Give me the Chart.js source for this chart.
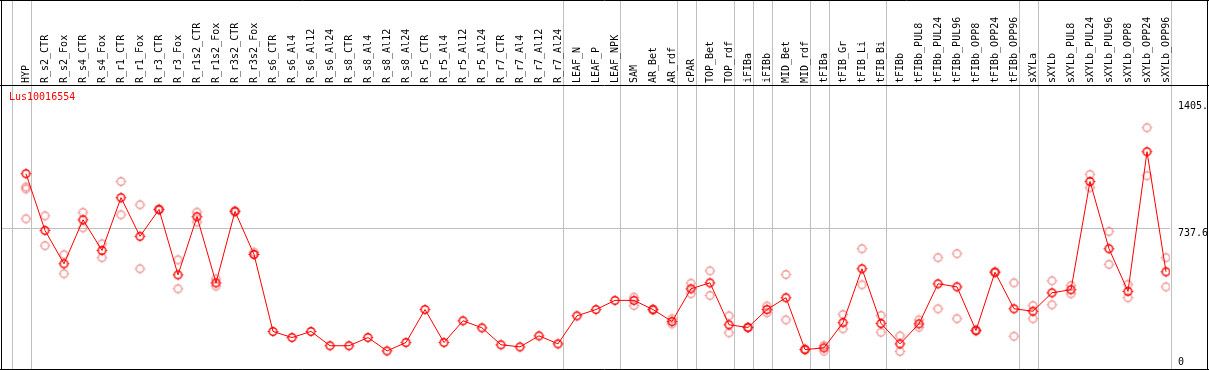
<!DOCTYPE html>
<html>
<head>
<meta charset="utf-8">
<script src="https://cdn.jsdelivr.net/npm/chart.js@4.4.1/dist/chart.umd.min.js"></script>
<style>
  body { margin: 0; background: #fff; }
  #wrap { width: 1209px; height: 370px; }
</style>
</head>
<body>
<div id="wrap"><canvas id="graph" width="1209" height="370"></canvas></div>
<script>
const geneName = 'Lus10016554';

const categories = [
    'HYP', 'R_s2_CTR', 'R_s2_Fox', 'R_s4_CTR', 'R_s4_Fox', 'R_r1_CTR', 'R_r1_Fox', 'R_r3_CTR', 'R_r3_Fox',
    'R_r1s2_CTR', 'R_r1s2_Fox', 'R_r3s2_CTR', 'R_r3s2_Fox',
    'R_s6_CTR', 'R_s6_Al4', 'R_s6_Al12', 'R_s6_Al24', 'R_s8_CTR', 'R_s8_Al4', 'R_s8_Al12', 'R_s8_Al24',
    'R_r5_CTR', 'R_r5_Al4', 'R_r5_Al12', 'R_r5_Al24', 'R_r7_CTR', 'R_r7_Al4', 'R_r7_Al12', 'R_r7_Al24',
    'LEAF_N', 'LEAF_P', 'LEAF_NPK', 'SAM', 'AR_Bet', 'AR_rdf', 'cPAR', 'TOP_Bet', 'TOP_rdf',
    'iFIBa', 'iFIBb', 'MID_Bet', 'MID_rdf', 'tFIBa', 'tFIB_Gr', 'tFIB_Li', 'tFIB_Bi', 'tFIBb',
    'tFIBb_PUL8', 'tFIBb_PUL24', 'tFIBb_PUL96', 'tFIBb_OPP8', 'tFIBb_OPP24', 'tFIBb_OPP96',
    'sXYLa', 'sXYLb', 'sXYLb_PUL8', 'sXYLb_PUL24', 'sXYLb_PUL96', 'sXYLb_OPP8', 'sXYLb_OPP24', 'sXYLb_OPP96'
];

// mean expression per sample (red line)
const meanValues = [
    1025, 727, 552, 783, 622, 899, 696, 837, 494,
    799, 452, 827, 601,
    197, 165, 197, 122, 122, 165, 95, 139,
    312, 139, 253, 216, 127, 116, 174, 132,
    279, 312, 360, 360, 312, 249, 421, 452, 232,
    218, 312, 374, 102, 111, 243, 526, 239, 132,
    237, 447, 431, 202, 508, 316,
    303, 400, 416, 984, 631, 407, 1140, 510
];

// single replicates (pale circles)
const replicates = [
    [955, 945, 788], [804, 647], [600, 500], [822, 741], [657, 584], [984, 809], [862, 526], [840, 834], [573, 421],
    [823, 771], [473, 435], [830, 824], [613, 601],
    [], [], [], [], [], [], [], [],
    [], [], [], [], [], [], [], [],
    [], [], [], [377, 333], [315, 309], [263, 237], [450, 395], [515, 386], [279, 190],
    [220, 216], [330, 295], [496, 258], [105, 100], [123, 94], [286, 211], [631, 442], [281, 193], [174, 92],
    [258, 219], [584, 316], [605, 264], [205, 199], [510, 505], [452, 172],
    [333, 264], [463, 337], [438, 395], [1021, 951], [722, 549], [444, 374], [1266, 1014], [584, 431]
];

// group separators are drawn just right of these sample indices
const separatorsAfter = [-1, 0, 28, 31, 34, 35, 37, 38, 39, 41, 42, 45, 52, 53, 60];

const yTickValues = [0, 737.6, 1405.2];
const yTickLabels = ['0', '737.6', '1405.'];

const FONT = '10px "DejaVu Sans Mono", monospace';
const GRID = '#c0c0c0';

function makeMarker(color) {
    const c = document.createElement('canvas');
    c.width = 13;
    c.height = 13;
    const g = c.getContext('2d');
    g.strokeStyle = color;
    g.lineWidth = 1.4;
    g.beginPath();
    g.arc(6.5, 6.5, 3.8, 0, Math.PI * 2);
    g.stroke();
    g.lineWidth = 1;
    g.beginPath();
    g.moveTo(6.5, 1.2); g.lineTo(6.5, 2.4);
    g.moveTo(6.5, 10.6); g.lineTo(6.5, 11.8);
    g.moveTo(1.2, 6.5); g.lineTo(2.4, 6.5);
    g.moveTo(10.6, 6.5); g.lineTo(11.8, 6.5);
    g.stroke();
    return c;
}

let meanPoints = meanValues.map((v, i) => ({x: i, y: v}));
let repPoints = [];
replicates.forEach((reps, i) => {
    reps.forEach(v => repPoints.push({x: i, y: v}));
});

const frame = {
    id: 'frame',
    beforeDraw: (chart) => {
        const {ctx} = chart;
        ctx.save();
        ctx.fillStyle = '#fff';
        ctx.fillRect(0, 0, chart.width, chart.height);
        ctx.restore();
    },
    beforeDatasetsDraw: (chart) => {
        const {ctx, scales: {x}} = chart;
        ctx.save();
        ctx.strokeStyle = GRID;
        ctx.lineWidth = 1;
        separatorsAfter.forEach(i => {
            const px = Math.round(x.getPixelForValue(i + 5 / 19)) + 0.5;
            ctx.beginPath();
            ctx.moveTo(px, 0);
            ctx.lineTo(px, chart.height);
            ctx.stroke();
        });
        ctx.restore();
    },
    afterDraw: (chart) => {
        const {ctx, scales: {x, y}, chartArea} = chart;
        ctx.save();
        ctx.font = FONT;
        ctx.fillStyle = '#000';

        // sample names, rotated, reading upwards
        categories.forEach((name, i) => {
            ctx.save();
            ctx.translate(Math.round(x.getPixelForValue(i)) + 0.5, 83);
            ctx.rotate(-Math.PI / 2);
            ctx.textAlign = 'left';
            ctx.textBaseline = 'middle';
            ctx.fillText(name, 0, 0);
            ctx.restore();
        });

        // value labels on the right
        ctx.textAlign = 'left';
        ctx.textBaseline = 'middle';
        yTickValues.forEach((v, i) => {
            let py = y.getPixelForValue(v);
            py = (v === 0) ? py - 7 : py + 5;
            ctx.fillText(yTickLabels[i], 1178, py);
        });

        // frame lines
        ctx.strokeStyle = '#000';
        ctx.lineWidth = 1;
        ctx.beginPath();
        ctx.moveTo(0, 85.5); ctx.lineTo(chart.width, 85.5);
        ctx.moveTo(0, 0.5); ctx.lineTo(chart.width, 0.5);
        ctx.moveTo(1.5, 0); ctx.lineTo(1.5, chart.height);
        ctx.moveTo(0, chartArea.bottom + 0.5); ctx.lineTo(chart.width, chartArea.bottom + 0.5);
        ctx.moveTo(chart.width - 1.5, 0); ctx.lineTo(chart.width - 1.5, chart.height);
        ctx.stroke();

        // gene name
        ctx.fillStyle = '#ff0000';
        ctx.textBaseline = 'middle';
        ctx.fillText(geneName, 9, 97);
        ctx.restore();
    }
};

const ctx = document.getElementById('graph');
const chart = new Chart(ctx, {
    type: 'line',
    data: {
        datasets: [{
            label: geneName,
            data: meanPoints,
            borderColor: '#ff0000',
            borderWidth: 1,
            tension: 0,
            pointStyle: makeMarker('#ff0000'),
            pointRadius: 5
        }, {
            label: 'replicates',
            data: repPoints,
            showLine: false,
            pointStyle: makeMarker('rgba(235,120,120,0.75)'),
            pointRadius: 5
        }]
    },
    options: {
        responsive: false,
        animation: false,
        events: [],
        layout: {
            autoPadding: false,
            padding: {top: 85, left: 2, right: 39, bottom: 1}
        },
        plugins: {
            legend: {display: false},
            tooltip: {enabled: false},
            title: {display: false}
        },
        scales: {
            x: {
                type: 'linear',
                display: false,
                min: -24 / 19,
                max: 60 + 4 / 19
            },
            y: {
                type: 'linear',
                position: 'right',
                min: 0,
                max: 1490,
                ticks: {display: false},
                border: {display: false},
                grid: {
                    drawTicks: false,
                    color: (c) => (c.tick && c.tick.value === 737.6) ? GRID : 'rgba(0,0,0,0)'
                },
                afterBuildTicks: (scale) => {
                    scale.ticks = yTickValues.map(v => ({value: v}));
                }
            }
        }
    },
    plugins: [frame]
});
</script>
</body>
</html>
